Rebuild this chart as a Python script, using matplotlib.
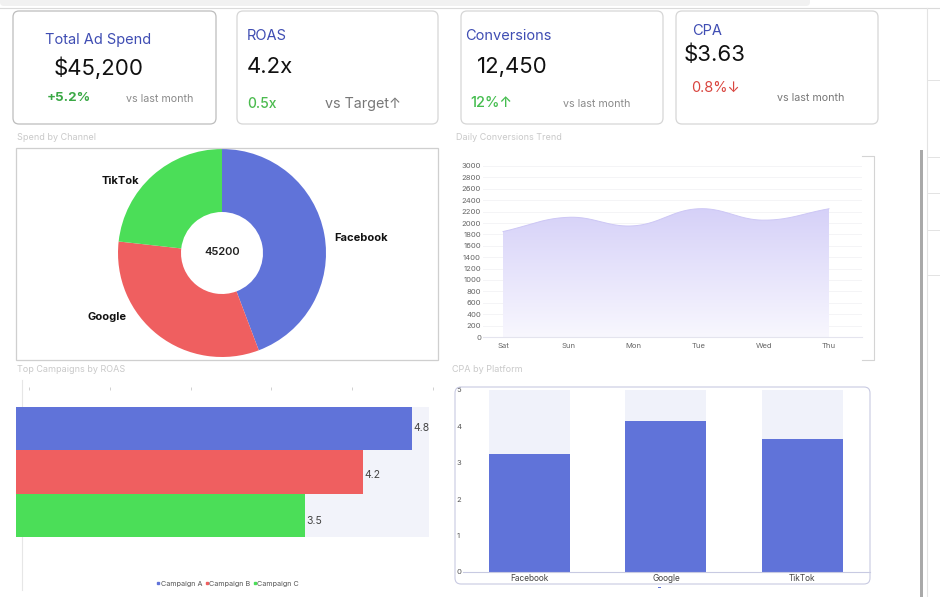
import numpy as np
import matplotlib
matplotlib.use("Agg")
import matplotlib.pyplot as plt
import matplotlib.transforms as mtransforms
from matplotlib.patches import FancyBboxPatch, Rectangle, Polygon
from matplotlib.lines import Line2D

W, H = 940, 597
plt.rcParams['font.family'] = ['Inter', 'DejaVu Sans']

# ---------------- data ----------------
kpi_titles = ["Total Ad Spend", "ROAS", "Conversions", "CPA"]
kpi_values = ["$45,200", "4.2x", "12,450", "$3.63"]
kpi_deltas = ["+5.2%", "0.5x", "12%↑", "0.8%↓"]
kpi_notes = ["vs last month", "vs Target↑", "vs last month", "vs last month"]

channels = ["Facebook", "Google", "TikTok"]
channel_spend = [20000, 14700, 10500]

days = ["Sat", "Sun", "Mon", "Tue", "Wed", "Thu"]
daily_conv = [1850, 2100, 1950, 2250, 2050, 2250]

campaigns = ["Campaign A", "Campaign B", "Campaign C"]
campaign_roas = [4.8, 4.2, 3.5]

platforms = ["Facebook", "Google", "TikTok"]
platform_cpa = [3.25, 4.15, 3.65]

# ---------------- helpers ----------------
fig = plt.figure(figsize=(W / 100, H / 100), dpi=100)
fig.patch.set_facecolor("white")
PX = mtransforms.Affine2D().scale(1 / W, -1 / H).translate(0, 1) + fig.transFigure


def px_axes(x0, y0, x1, y1):
    return fig.add_axes([x0 / W, 1 - y1 / H, (x1 - x0) / W, (y1 - y0) / H])


def ftext(x, y, s, **kw):
    kw.setdefault("va", "center")
    return fig.text(x / W, 1 - y / H, s, **kw)


def fline(xs, ys, **kw):
    fig.add_artist(Line2D(xs, ys, transform=PX, **kw))


def fbox(x0, y0, x1, y1, r=6, **kw):
    fig.add_artist(FancyBboxPatch((x0, y0), x1 - x0, y1 - y0,
                                  boxstyle=f"round,pad=0,rounding_size={r}",
                                  transform=PX, **kw))


BLUE = "#6073d9"
RED = "#ef5f60"
GREEN = "#4bde58"
TITLE_C = "#3f4db3"
SEC_C = "#c9c9c9"

# ---------------- browser chrome ----------------
fig.add_artist(FancyBboxPatch((0, -4), 810, 10, boxstyle="round,pad=0,rounding_size=4",
                              transform=PX, facecolor="#f1f1f1", edgecolor="none"))
fline([0, 940], [7.5, 7.5], color="#dadada", lw=0.8)
fline([927, 927], [8, 597], color="#e3e3e3", lw=0.8)
fig.add_artist(Rectangle((919.5, 150), 3, 447, transform=PX, facecolor="#a9a9a9",
                         edgecolor="none"))
for yy in [80, 157, 193, 230, 275]:
    fline([928, 940], [yy, yy], color="#e3e3e3", lw=0.7)

# ---------------- KPI cards ----------------
card_boxes = [(13, 216), (237, 438), (461, 663), (676, 878)]
card_edges = ["#bdbdbd", "#d6d6d6", "#d6d6d6", "#d6d6d6"]
for (x0, x1), ec in zip(card_boxes, card_edges):
    fbox(x0, 11, x1, 124, r=6, facecolor="white", edgecolor=ec, lw=0.9)

title_pos = [(45, 40), (247, 36), (465, 36), (692, 31)]
value_pos = [(54, 68), (247, 67), (477, 67), (684, 55)]
delta_pos = [(47, 98), (247, 104), (470, 103), (691, 88)]
note_pos = [(126, 99), (325, 104), (563, 104), (777, 98)]
delta_col = ["#3aa845", "#4cbb4f", "#45bd4f", "#d9453f"]
delta_w = ["bold", "medium", "medium", "normal"]
delta_fs = [9.6, 10, 10.5, 10.5]
note_fs = [7.7, 10.3, 7.7, 7.7]
note_col = ["#8a8a8a", "#777777", "#8a8a8a", "#777777"]

for i in range(4):
    ftext(*title_pos[i], kpi_titles[i], fontsize=10.5, color=TITLE_C)
    ftext(*value_pos[i], kpi_values[i], fontsize=16, color="#111111")
    ftext(*delta_pos[i], kpi_deltas[i], fontsize=delta_fs[i], color=delta_col[i],
          fontweight=delta_w[i])
    ftext(*note_pos[i], kpi_notes[i], fontsize=note_fs[i], color=note_col[i])

# ---------------- section titles ----------------
ftext(17, 137, "Spend by Channel", fontsize=6.5, color=SEC_C)
ftext(456, 137, "Daily Conversions Trend", fontsize=6.5, color=SEC_C)
ftext(17, 369, "Top Campaigns by ROAS", fontsize=6.5, color=SEC_C)
ftext(452, 369, "CPA by Platform", fontsize=6.5, color=SEC_C)

# ---------------- donut ----------------
fig.add_artist(Rectangle((16, 148), 422, 212, transform=PX, facecolor="none",
                         edgecolor="#cfcfcf", lw=0.9))
axp = px_axes(16, 148, 438, 360)
axp.pie(channel_spend, colors=[BLUE, RED, GREEN], center=(222, H - 253), radius=104,
        startangle=90, counterclock=False,
        wedgeprops=dict(width=63, edgecolor="none"), frame=True)
axp.set_aspect("auto")
axp.set_xlim(16, 438)
axp.set_ylim(H - 360, H - 148)
axp.axis("off")
label_xy = {"Facebook": (334, 238, "left"), "Google": (127, 317, "right"),
            "TikTok": (139, 181, "right")}
for ch in channels:
    lx, ly, ha = label_xy[ch]
    axp.text(lx, H - ly, ch, fontsize=8, fontweight="bold", color="#111", ha=ha,
             va="center")
axp.text(222, H - 252, f"{sum(channel_spend)}", fontsize=8, fontweight="semibold",
         color="#222", ha="center", va="center")

# ---------------- area line chart ----------------
fline([862, 874, 874, 862], [155.5, 155.5, 360, 360], color="#d4d4d4", lw=0.8)
axl = px_axes(483, 166, 862, 337)
xs = np.arange(len(days), dtype=float)
ys = np.array(daily_conv, dtype=float)
axl.set_xlim(-0.307, 5.506)
axl.set_ylim(0, 3000)

# Chart.js-like bezier smoothing (tension 0.4) in pixel space
sx, sy = 65.2, 171.0 / 3000.0
P = np.column_stack([xs * sx, ys * sy])
t = 0.4
cps = []
for i in range(len(P)):
    p0 = P[max(i - 1, 0)]
    p1 = P[i]
    p2 = P[min(i + 1, len(P) - 1)]
    d01 = np.hypot(*(p1 - p0))
    d12 = np.hypot(*(p2 - p1))
    tot = d01 + d12 if d01 + d12 > 0 else 1
    fa = t * d01 / tot
    fb = t * d12 / tot
    cps.append((p1 - fa * (p2 - p0), p1 + fb * (p2 - p0)))
curve = []
u = np.linspace(0, 1, 40)[:, None]
for i in range(len(P) - 1):
    a, b = P[i], cps[i][1]
    c, d = cps[i + 1][0], P[i + 1]
    seg = (1 - u) ** 3 * a + 3 * (1 - u) ** 2 * u * b + 3 * (1 - u) * u ** 2 * c + u ** 3 * d
    curve.append(seg if i == 0 else seg[1:])
curve = np.vstack(curve)
cx, cy = curve[:, 0] / sx, curve[:, 1] / sy

poly = np.vstack([np.column_stack([cx, cy]), [[xs[-1], 0], [xs[0], 0]]])
patch = Polygon(poly, closed=True, facecolor="none", edgecolor="none")
axl.add_patch(patch)
top_c = np.array([212, 207, 248]) / 255
bot_c = np.array([248, 247, 254]) / 255
g = np.linspace(0, 1, 256)[:, None]
grad = (top_c[None, :] * (1 - g) + bot_c[None, :] * g)[:, None, :]
im = axl.imshow(grad, extent=[xs[0], xs[-1], 0, 2350], aspect="auto", origin="upper",
                zorder=2)
im.set_clip_path(patch)
axl.plot(cx, cy, color="#cdc7f5", lw=0.7, zorder=3)

axl.set_yticks(np.arange(0, 3001, 200))
axl.set_xticks(xs)
axl.set_xticklabels(days)
axl.tick_params(axis="both", length=0, labelsize=5.5, labelcolor="#666")
axl.tick_params(axis="y", pad=1.5)
axl.tick_params(axis="x", pad=4)
axl.grid(axis="y", color="#f4f4f6", lw=0.7)
axl.set_axisbelow(True)
for s in ["top", "right", "left"]:
    axl.spines[s].set_visible(False)
axl.spines["bottom"].set_color("#e4e4ee")
axl.spines["bottom"].set_linewidth(0.8)

# ---------------- horizontal bars ----------------
fline([21.5, 21.5], [380, 590], color="#e6e6e6", lw=0.8, zorder=-1)
axt = px_axes(29, 386, 433, 387)
axt.set_xlim(0, 5)
axt.set_xticks(np.arange(0, 6))
axt.tick_params(axis="x", length=2.5, color="#d0d0d0", labelbottom=False, width=0.7)
axt.set_yticks([])
for s in axt.spines.values():
    s.set_visible(False)
axt.patch.set_alpha(0)

roas_max = 5.0
axh = px_axes(16, 380, 446, 590)
ypos = np.arange(len(campaigns))
axh.barh(ypos, [roas_max] * len(campaigns), height=1.0, color="#f2f3fa", zorder=1)
axh.barh(ypos, campaign_roas, height=1.0, color=[BLUE, RED, GREEN], zorder=2)
axh.set_xlim(0, 430 / 82.5)
axh.set_ylim(3.713, -1.115)
for yv, v in zip(ypos, campaign_roas):
    axh.text(v + 0.02, yv + 0.06 * yv, f"{v}", fontsize=7.5, color="#444",
             va="center", ha="left")
axh.axis("off")
handles = [Line2D([], [], marker="s", linestyle="none", markersize=1.8, color=c)
           for c in [BLUE, RED, GREEN]]
fig.legend(handles, campaigns, loc="center", bbox_to_anchor=(228 / W, 1 - 584 / H),
           ncol=3, frameon=False, fontsize=5.2, handlelength=0.4, handletextpad=0.15,
           columnspacing=0.4, labelcolor="#555")

# ---------------- CPA bars ----------------
fbox(455, 387, 870, 584, r=6, facecolor="none", edgecolor="#c8cae2", lw=0.8)
axc = px_axes(463, 390, 870, 572)
xp = np.arange(len(platforms))
cpa_max = 5.0
axc.bar(xp, [cpa_max] * len(platforms), width=0.593, color="#f0f2fa", zorder=1)
axc.bar(xp, platform_cpa, width=0.593, color=BLUE, zorder=2)
axc.set_xlim(-0.487, 2.495)
axc.set_ylim(0, 5)
axc.set_yticks(np.arange(0, 6))
axc.set_xticks(xp)
axc.set_xticklabels(platforms)
axc.tick_params(axis="both", length=0, labelsize=5.5, labelcolor="#555")
axc.tick_params(axis="x", pad=1.5, labelsize=6, labelcolor="#444")
for lab in axc.get_yticklabels():
    lab.set_ha("left")
axc.tick_params(axis="y", pad=4.5)
for s in ["top", "right", "left"]:
    axc.spines[s].set_visible(False)
axc.spines["bottom"].set_color("#c8cae2")
axc.spines["bottom"].set_linewidth(0.8)
fig.add_artist(Rectangle((657.5, 586.5), 3, 1.5, transform=PX, facecolor=BLUE,
                         edgecolor="none"))

fig.savefig("out.png", dpi=100, facecolor="white")
